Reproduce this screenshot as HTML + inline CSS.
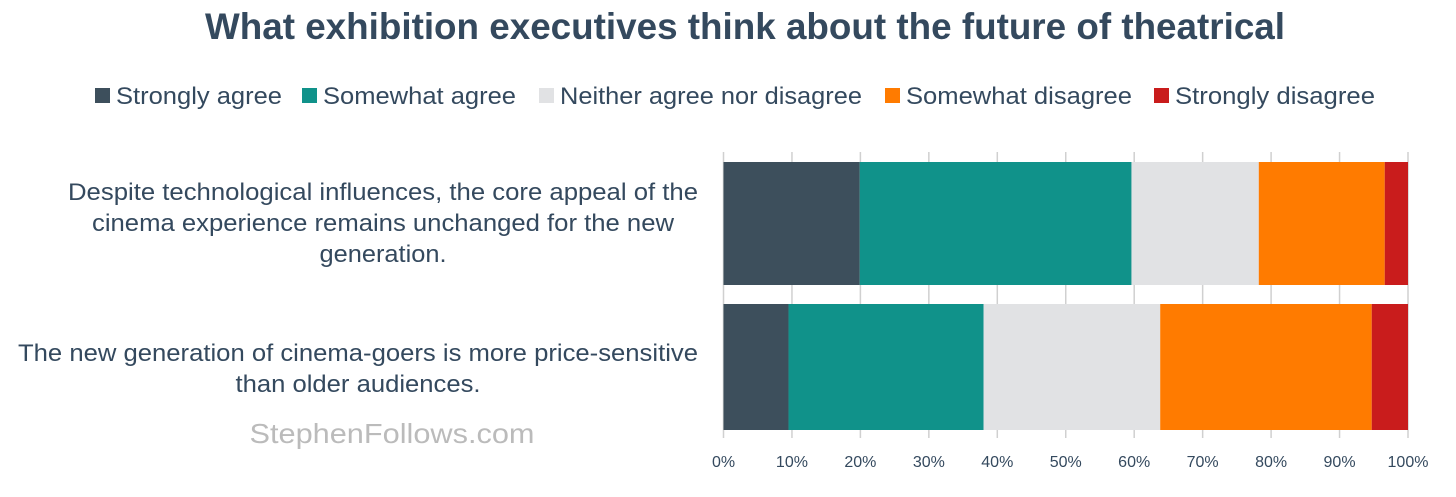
<!DOCTYPE html>
<html><head><meta charset="utf-8"><style>
html,body{margin:0;padding:0;background:#fff;width:1456px;height:497px;overflow:hidden}
body{font-family:"Liberation Sans",sans-serif;color:#34495e}
</style></head><body>
<svg width="1456" height="497" xmlns="http://www.w3.org/2000/svg">
<text x="745" y="39" text-anchor="middle" font-size="37" font-weight="bold" fill="#34495e" textLength="1080" lengthAdjust="spacingAndGlyphs">What exhibition executives think about the future of theatrical</text>
<g id="legend"></g>
<g id="grid"></g>
<g id="bars"></g>
<g id="ticks"></g>
<g font-size="24" fill="#34495e" text-anchor="middle">
<text x="383" y="200" textLength="630" lengthAdjust="spacingAndGlyphs">Despite technological influences, the core appeal of the</text>
<text x="383" y="231" textLength="582" lengthAdjust="spacingAndGlyphs">cinema experience remains unchanged for the new</text>
<text x="383" y="262" textLength="127" lengthAdjust="spacingAndGlyphs">generation.</text>
<text x="358" y="361" textLength="680" lengthAdjust="spacingAndGlyphs">The new generation of cinema-goers is more price-sensitive</text>
<text x="358" y="392" textLength="245" lengthAdjust="spacingAndGlyphs">than older audiences.</text>
</g>
<text x="392" y="443" text-anchor="middle" font-size="28" fill="#bbbbbb" textLength="285" lengthAdjust="spacingAndGlyphs">StephenFollows.com</text>
</svg>
<script>
const series = ["Strongly agree","Somewhat agree","Neither agree nor disagree","Somewhat disagree","Strongly disagree"];
const colors = ["#3d4f5c","#10928a","#e1e2e4","#ff7b00","#c91c1c"];
const bar1 = [19.9, 39.7, 18.6, 18.4, 3.4];
const bar2 = [9.5, 28.5, 25.8, 30.9, 5.3];
const tickLabels = ["0%","10%","20%","30%","40%","50%","60%","70%","80%","90%","100%"];
const tickValues = [0,10,20,30,40,50,60,70,80,90,100];
const NS="http://www.w3.org/2000/svg";
const x0=723.5,x1=1408;
function xs(v){return x0+(x1-x0)*v/100;}
function mk(t,a,p){const e=document.createElementNS(NS,t);for(const k in a)e.setAttribute(k,a[k]);p.appendChild(e);return e;}
const grid=document.getElementById('grid');
const ticks=document.getElementById('ticks');
tickValues.forEach((v,i)=>{
  const l=mk('line',{x1:xs(v),x2:xs(v),y1:152,y2:438,stroke:'#d0d0d0','stroke-width':1.5},grid);
  
  
  const t=mk('text',{x:xs(v),y:467,'text-anchor':'middle','font-size':16,fill:'#34495e'},ticks);
  t.textContent=tickLabels[i];
  
  
});
const bars=document.getElementById('bars');
[[bar1,162,123],[bar2,304,126]].forEach((vals,bi)=>{
  let acc=0;
  vals[0].forEach((v,i)=>{
    const r=mk('rect',{x:xs(acc),y:vals[1],width:xs(acc+v)-xs(acc),height:vals[2],fill:colors[i]},bars);
    
    
    acc+=v;
  });
});
const legend=document.getElementById('legend');
const legX=[95,302,539,885,1154];
const legW=[166,193,302,226,200];
series.forEach((s,i)=>{
  const g=mk('g',{},legend);
  
  
  mk('rect',{x:legX[i],y:88,width:15,height:15,fill:colors[i]},g);
  const t=mk('text',{x:legX[i]+21,y:104,'font-size':24,fill:'#34495e',textLength:legW[i],lengthAdjust:'spacingAndGlyphs'},g);
  t.textContent=s;
});
</script>
</body></html>
